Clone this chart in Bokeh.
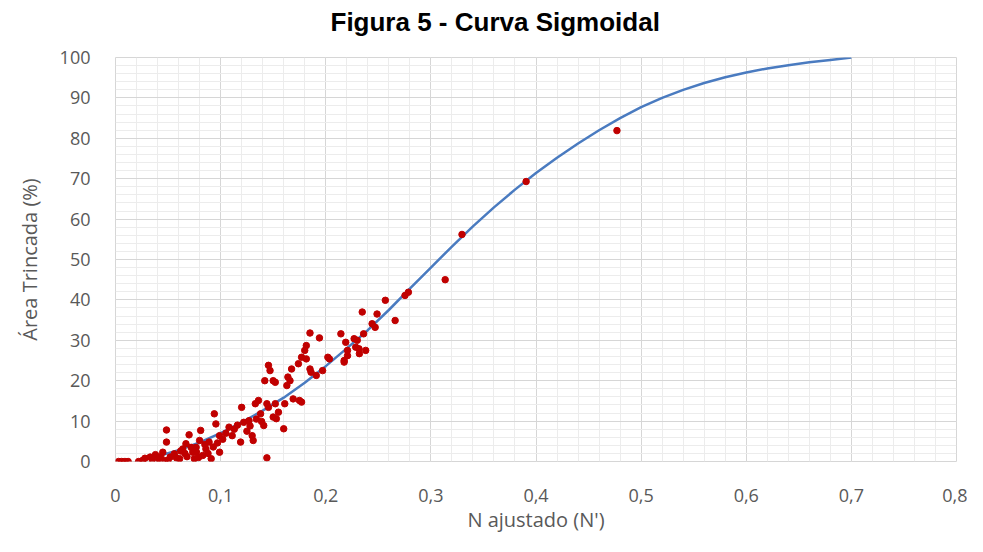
from bokeh.plotting import figure
from bokeh.models import Range1d, FixedTicker, CustomJSTickFormatter, Title
from bokeh.embed import file_html
from bokeh.resources import INLINE
import numpy as np

# Observed points: N ajustado (N') vs Área Trincada (%)
n_ajustado = [
    0.003, 0.006, 0.009, 0.012, 0.022, 0.026,
    0.028, 0.033, 0.038, 0.041, 0.045, 0.047, 0.0485, 0.0485, 0.052, 0.056,
    0.061, 0.064, 0.067, 0.066, 0.070, 0.0735, 0.0767, 0.075, 0.080, 0.081,
    0.083, 0.086, 0.089, 0.091, 0.077, 0.099, 0.099, 0.094, 0.0955, 0.108,
    0.111, 0.119, 0.120, 0.122, 0.127, 0.130, 0.131, 0.133, 0.136, 0.138,
    0.141, 0.144, 0.1455, 0.144, 0.150, 0.152, 0.153, 0.155, 0.160, 0.161,
    0.169, 0.175, 0.177, 0.142, 0.150, 0.1455, 0.147, 0.152, 0.163, 0.164,
    0.166, 0.1675, 0.174, 0.177, 0.180, 0.1815, 0.1815, 0.185, 0.194, 0.185,
    0.186, 0.191, 0.197, 0.202, 0.2035, 0.2144, 0.219, 0.227, 0.236, 0.2285,
    0.232, 0.238, 0.2207, 0.2207, 0.2175, 0.2175, 0.2441, 0.247, 0.2347, 0.2488,
    0.2567, 0.266, 0.2754, 0.2786, 0.230, 0.2316,
    0.035, 0.043, 0.050, 0.058, 0.062, 0.068, 0.072, 0.079, 0.085, 0.088,
    0.093, 0.097, 0.102, 0.105, 0.113, 0.116, 0.125, 0.128, 0.134, 0.139,
    0.3136, 0.3296, 0.3906, 0.477,
]
area_trincada = [
    0.0, 0.0, 0.0, 0.0, 0.0, 0.3,
    0.8, 1.1, 1.7, 0.7, 2.3, 0.2, 4.8, 7.8, 1.1, 1.9,
    0.7, 3.1, 4.4, 2.0, 6.6, 2.3, 3.5, 0.7, 5.2, 7.7,
    1.5, 3.1, 4.8, 0.7, 2.3, 6.4, 2.3, 11.8, 9.3, 8.5,
    6.4, 4.8, 13.4, 9.7, 10.1, 6.4, 5.2, 14.3, 15.1, 11.8,
    8.9, 0.9, 13.4, 14.3, 11.0, 14.3, 10.6, 12.2, 8.1, 14.3,
    15.5, 15.1, 14.7, 20.0, 20.0, 23.8, 22.5, 19.6, 18.8, 20.9,
    20.0, 22.9, 24.2, 25.8, 27.5, 28.7, 25.4, 31.8, 30.6, 22.9,
    22.1, 21.3, 22.5, 25.8, 25.4, 31.6, 29.5, 30.4, 31.6, 28.3,
    26.7, 27.5, 27.5, 26.2, 24.6, 25.0, 34.1, 33.2, 37.0, 36.5,
    39.9, 34.9, 41.1, 41.9, 30.0, 27.9,
    0.5, 1.2, 0.3, 0.9, 2.6, 1.2, 3.5, 1.0, 4.2, 2.0,
    3.6, 4.6, 5.5, 7.0, 8.0, 9.0, 7.5, 8.8, 10.5, 9.9,
    45.0, 56.2, 69.3, 81.9,
]

# Fitted sigmoid curve
curve_n = [0.02, 0.04, 0.06, 0.08, 0.10, 0.12, 0.14, 0.16, 0.18, 0.20,
           0.22, 0.24, 0.26, 0.28, 0.30, 0.32, 0.34, 0.36, 0.38, 0.40,
           0.42, 0.44, 0.46, 0.48, 0.50, 0.52, 0.54, 0.56, 0.58, 0.60,
           0.62, 0.64, 0.66, 0.68, 0.70]
curve_area = [0.3, 1.3, 2.8, 4.7, 7.0, 9.7, 12.6, 15.8, 19.5, 23.6,
              28.0, 32.5, 37.5, 42.8, 48.0, 53.2, 58.2, 62.9, 67.3, 71.4,
              75.2, 78.7, 82.0, 85.0, 87.7, 90.0, 92.0, 93.7, 95.1, 96.3,
              97.3, 98.1, 98.8, 99.4, 100.0]

x_tick_values = [0, 0.1, 0.2, 0.3, 0.4, 0.5, 0.6, 0.7, 0.8]
x_tick_labels = ["0", "0,1", "0,2", "0,3", "0,4", "0,5", "0,6", "0,7", "0,8"]
y_tick_values = [0, 10, 20, 30, 40, 50, 60, 70, 80, 90, 100]
y_tick_labels = ["0", "10", "20", "30", "40", "50", "60", "70", "80", "90", "100"]

p = figure(width=967, height=536, output_backend="svg", toolbar_location=None,
           x_range=Range1d(0, 0.8), y_range=Range1d(0, 100),
           min_border_left=115, min_border_right=11, min_border_top=57,
           min_border_bottom=75, background_fill_color="white",
           border_fill_color="white")

# spacer between frame and title (closest to the frame)
p.add_layout(Title(text=" ", text_font_size="1px", standoff=17), "above")
p.add_layout(Title(text="Figura 5 - Curva Sigmoidal", text_font="Liberation Sans",
                   text_font_style="bold", text_font_size="26px", text_color="#000000",
                   align="left", offset=215, standoff=2), "above")

x_minor = list(np.round(np.arange(0, 0.8001, 0.02), 4))
y_minor = list(np.arange(0, 101, 2))
p.xaxis.ticker = FixedTicker(ticks=x_tick_values, minor_ticks=x_minor)
p.yaxis.ticker = FixedTicker(ticks=y_tick_values, minor_ticks=y_minor)

fmt_code = """
let best = 0; let d = Infinity;
for (let i = 0; i < vals.length; i++) {
  const dd = Math.abs(vals[i] - tick);
  if (dd < d) { d = dd; best = i; }
}
return labels[best];
"""
p.xaxis.formatter = CustomJSTickFormatter(args=dict(vals=x_tick_values, labels=x_tick_labels), code=fmt_code)
p.yaxis.formatter = CustomJSTickFormatter(args=dict(vals=y_tick_values, labels=y_tick_labels), code=fmt_code)

for ax in (p.xaxis, p.yaxis):
    ax.axis_line_color = None
    ax.major_tick_line_color = None
    ax.minor_tick_line_color = None
    ax.major_tick_out = 0
    ax.minor_tick_out = 0
    ax.major_label_text_font = "Open Sans"
    ax.major_label_text_font_size = "18px"
    ax.major_label_text_color = "#595959"
    ax.axis_label_text_font = "Open Sans"
    ax.axis_label_text_font_size = "20px"
    ax.axis_label_text_font_style = "normal"
    ax.axis_label_text_color = "#595959"

p.xaxis.axis_label = "N ajustado (N')"
p.yaxis.axis_label = "Área Trincada (%)"
p.xaxis.major_label_standoff = 27
p.yaxis.major_label_standoff = 25
p.xaxis.axis_label_standoff = 1
p.yaxis.axis_label_standoff = 14

p.xgrid.grid_line_color = "#d6d6d6"
p.ygrid.grid_line_color = "#d6d6d6"
p.xgrid.minor_grid_line_color = "#ececec"
p.ygrid.minor_grid_line_color = "#ececec"
p.outline_line_color = "#d6d6d6"

p.line(curve_n, curve_area, line_color="#4a7bc0", line_width=2.5)
p.scatter(n_ajustado, area_trincada, size=6.5, fill_color="#c00000", line_color="#c00000")

open("out.html", "w").write(file_html(p, INLINE))
